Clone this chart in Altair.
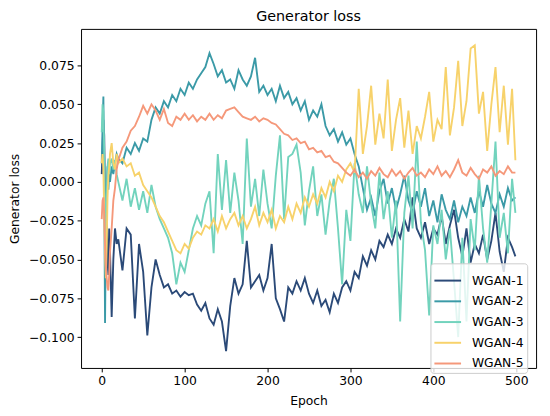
import altair as alt
import pandas as pd

early_epochs = [0, 1, 2, 3, 4, 5, 6, 7, 8, 9, 10, 12, 14, 16, 18, 20]
epochs = early_epochs + list(range(25, 500, 5)) + [499]

wgan1 = [0.005, 0.02, 0.04, 0.03, -0.01, -0.04, -0.024, -0.05, -0.06, -0.03, -0.045, -0.087, -0.05, -0.03, -0.04, -0.037,
         -0.057, -0.030, -0.034, -0.088, -0.040, -0.058, -0.099, -0.068, -0.050, -0.060,
         -0.068, -0.066, -0.072, -0.070, -0.074, -0.071, -0.073, -0.072, -0.079, -0.083,
         -0.078, -0.088, -0.092, -0.082, -0.090, -0.109, -0.080, -0.062, -0.072, -0.066,
         -0.038, -0.068, -0.064, -0.060, -0.070, -0.062, -0.040, -0.075, -0.082, -0.090,
         -0.068, -0.072, -0.064, -0.070, -0.062, -0.072, -0.078, -0.070, -0.080, -0.076,
         -0.084, -0.072, -0.078, -0.068, -0.064, -0.070, -0.058, -0.062, -0.048, -0.054,
         -0.044, -0.050, -0.038, -0.042, -0.034, -0.040, -0.030, -0.036, -0.024, -0.032,
         -0.010, -0.030, -0.036, -0.026, -0.040, -0.030, -0.034, -0.022, -0.040, -0.028,
         -0.018, -0.036, -0.048, -0.030, -0.052, -0.040, -0.046, -0.034, -0.050, -0.038,
         -0.020, -0.045, -0.058, -0.036, -0.042, -0.048]

wgan2 = [0.012, 0.035, 0.055, 0.0, -0.091, -0.03, 0.0, 0.01, -0.005, 0.005, 0.0, 0.01, 0.005, 0.012, 0.018, 0.015,
         0.012, 0.022, 0.018, 0.025, 0.020, 0.028, 0.026, 0.040, 0.048, 0.044,
         0.052, 0.048, 0.056, 0.052, 0.060, 0.056, 0.064, 0.060, 0.066, 0.070,
         0.074, 0.083, 0.076, 0.068, 0.072, 0.064, 0.066, 0.060, 0.072, 0.066,
         0.062, 0.068, 0.080, 0.058, 0.062, 0.056, 0.060, 0.052, 0.062, 0.054,
         0.058, 0.050, 0.054, 0.046, 0.052, 0.040, 0.046, 0.042, 0.050, 0.036,
         0.030, 0.034, 0.026, 0.032, 0.024, 0.028, 0.018, 0.010, -0.004, -0.018,
         -0.010, -0.022, -0.006, 0.002, -0.014, -0.004, -0.018, -0.008, 0.004, -0.012,
         -0.020, -0.006, -0.016, -0.004, -0.022, -0.012, -0.026, -0.008, -0.018, -0.024,
         -0.012, -0.026, -0.016, -0.022, -0.010, -0.020, -0.006, -0.016, -0.002, -0.014,
         -0.020, -0.008, -0.016, -0.004, -0.012, -0.010]

wgan3 = [0.032, 0.05, 0.045, 0.02, -0.03, -0.06, -0.01, 0.01, 0.015, 0.005, 0.012, 0.015, 0.008, 0.014, 0.005, 0.0,
         -0.012, 0.002, -0.016, -0.004, -0.018, -0.006, -0.020, -0.002, -0.016, -0.024,
         -0.030, -0.036, -0.046, -0.066, -0.052, -0.058, -0.044, -0.030, -0.022, -0.028,
         -0.014, -0.006, -0.046, 0.018, -0.018, 0.014, -0.020, 0.006, -0.012, -0.040,
         0.028, -0.016, 0.002, -0.022, 0.008, -0.014, -0.030, 0.004, 0.030, -0.024,
         0.016, 0.018, 0.024, 0.006, -0.028, -0.006, 0.010, -0.022, -0.008, -0.034,
         -0.012, 0.002, -0.030, -0.066, -0.018, -0.038, 0.012, -0.008, -0.020, 0.010,
         -0.014, -0.030, 0.006, -0.024, -0.006, -0.036, -0.012, -0.090, -0.020, 0.004,
         -0.030, 0.026, -0.026, -0.044, -0.086, -0.028, -0.040, -0.018, -0.050, -0.030,
         -0.064, -0.100, -0.036, -0.090, -0.024, -0.044, 0.004, -0.030, -0.052, -0.014,
         0.026, -0.036, -0.020, -0.046, 0.002, -0.020]

wgan4 = [0.012, 0.018, 0.008, -0.02, -0.045, -0.062, -0.04, -0.01, 0.004, 0.01, 0.018, 0.025, 0.012, 0.008, 0.018, 0.012,
         0.015, 0.010, 0.012, 0.004, 0.006, -0.002, -0.006, -0.010, -0.016, -0.022,
         -0.026, -0.032, -0.038, -0.044, -0.046, -0.040, -0.043, -0.036, -0.032, -0.034,
         -0.028, -0.030, -0.024, -0.032, -0.022, -0.030, -0.024, -0.020, -0.028, -0.022,
         -0.030, -0.024, -0.016, -0.028, -0.020, -0.026, -0.018, -0.030, -0.022, -0.026,
         -0.016, -0.024, -0.014, -0.020, -0.010, -0.016, -0.008, -0.014, -0.004, -0.010,
         0.000, -0.006, 0.004, 0.000, 0.008, 0.012, 0.006, 0.060, 0.018, 0.036,
         0.062, 0.024, 0.044, 0.028, 0.066, 0.020, 0.040, 0.054, 0.022, 0.046,
         0.018, 0.036, 0.028, 0.042, 0.058, 0.026, 0.040, 0.034, 0.074, 0.030,
         0.048, 0.078, 0.036, 0.052, 0.086, 0.088, 0.044, 0.058, 0.020, 0.050,
         0.074, 0.032, 0.062, 0.024, 0.060, 0.014]

wgan5 = [-0.024, -0.012, -0.010, -0.02, -0.04, -0.055, -0.062, -0.068, -0.070, -0.06, -0.045, -0.03, -0.012, -0.004, 0.008, 0.014,
         0.022, 0.026, 0.033, 0.036, 0.042, 0.049, 0.044, 0.050, 0.046, 0.040,
         0.047, 0.038, 0.036, 0.042, 0.040, 0.044, 0.040, 0.043, 0.039, 0.042,
         0.040, 0.044, 0.040, 0.043, 0.041, 0.046, 0.047, 0.048, 0.045, 0.042,
         0.041, 0.040, 0.042, 0.039, 0.041, 0.040, 0.038, 0.037, 0.034, 0.031,
         0.030, 0.027, 0.028, 0.025, 0.026, 0.021, 0.022, 0.019, 0.020, 0.016,
         0.017, 0.013, 0.012, 0.009, 0.006, 0.004, 0.008, 0.003, 0.006, 0.002,
         0.007, 0.004, 0.009, 0.005, 0.003, 0.008, 0.004, 0.007, 0.002, 0.006,
         0.009, 0.004, 0.006, 0.003, 0.008, 0.005, 0.010, 0.004, 0.007, 0.003,
         0.008, 0.014, 0.006, 0.004, 0.009, 0.005, 0.002, 0.008, 0.006, 0.010,
         0.004, 0.007, 0.005, 0.010, 0.006, 0.006]

names = ["WGAN-1", "WGAN-2", "WGAN-3", "WGAN-4", "WGAN-5"]
colors = ["#2b4a78", "#3b9aa7", "#72d3bd", "#f7d26b", "#f5987a"]
series = [wgan1, wgan2, wgan3, wgan4, wgan5]

rows = []
for order, (name, vals) in enumerate(zip(names, series)):
    for e, v in zip(epochs, vals):
        rows.append({"Epoch": e, "loss": v, "model": name, "order": order})
df = pd.DataFrame(rows)

font = "DejaVu Sans"

chart = alt.Chart(df).mark_line(strokeWidth=1.9, clip=True).encode(
    x=alt.X("Epoch:Q",
            scale=alt.Scale(domain=[-24.95, 523.95], nice=False, zero=False),
            axis=alt.Axis(title="Epoch", values=[0, 100, 200, 300, 400, 500], format="d")),
    y=alt.Y("loss:Q",
            scale=alt.Scale(domain=[-0.1199, 0.0986], nice=False, zero=False),
            axis=alt.Axis(title="Generator loss",
                          values=[-0.1, -0.075, -0.05, -0.025, 0.0, 0.025, 0.05, 0.075],
                          format=".3f")),
    color=alt.Color("model:N",
                    scale=alt.Scale(domain=names, range=colors),
                    legend=alt.Legend(title=None, orient="none", legendX=354, legendY=237.5,
                                      symbolType="stroke", symbolSize=729, symbolStrokeWidth=2,
                                      labelFont=font, labelFontSize=12.5, labelColor="#000000",
                                      labelOffset=10, rowPadding=-2, padding=3,
                                      fillColor="rgba(255,255,255,0.8)", strokeColor="#cccccc",
                                      cornerRadius=3)),
    detail="order:O",
).properties(
    width=461,
    height=343.5,
    title=alt.TitleParams("Generator loss", font=font, fontSize=14.5, fontWeight="normal",
                          color="#000000", anchor="middle", offset=5),
    autosize=alt.AutoSizeParams(type="none"),
    padding={"left": 74, "top": 18.5, "right": 6, "bottom": 46},
).configure_axis(
    labelFont=font, labelFontSize=12.5, labelColor="#000000",
    titleFont=font, titleFontSize=12.5, titleColor="#000000", titleFontWeight="normal",
    domain=False, grid=False, tickColor="#000000", tickSize=4, tickWidth=1, labelPadding=3,
).configure_axisX(titlePadding=8).configure_axisY(titlePadding=7).configure_view(
    stroke="#000000", strokeWidth=1
)

chart.save("out.html", embed_options={"renderer": "svg", "actions": False})
